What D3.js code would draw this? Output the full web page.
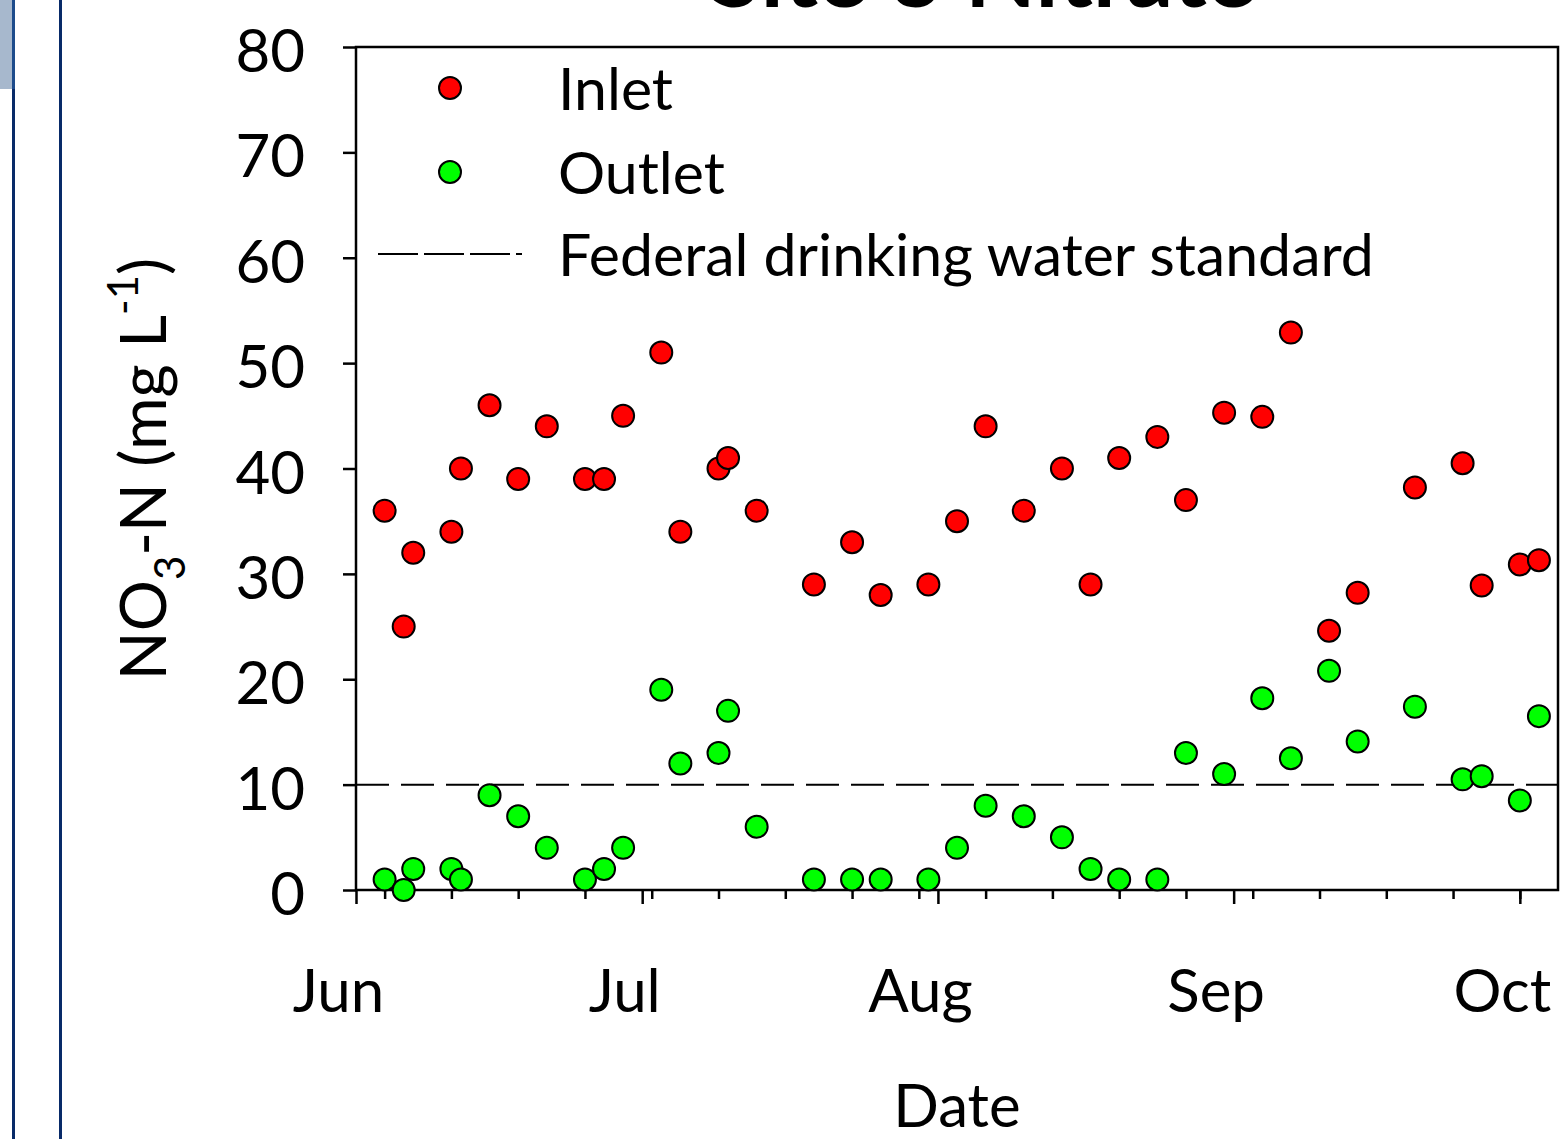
<!DOCTYPE html>
<html>
<head>
<meta charset="utf-8">
<script src="https://cdn.jsdelivr.net/npm/d3@7"></script>
<style>
  body { margin: 0; background: #fff; }
  svg { display: block; }
</style>
</head>
<body>
<script>
// sampling dates (2017) and nitrate concentrations, mg/L
const dates = [
  "2017-06-04", "2017-06-06", "2017-06-07", "2017-06-11", "2017-06-12", "2017-06-15",
  "2017-06-18", "2017-06-21", "2017-06-25", "2017-06-27", "2017-06-29", "2017-07-03",
  "2017-07-05", "2017-07-09", "2017-07-10", "2017-07-13", "2017-07-19", "2017-07-23",
  "2017-07-26", "2017-07-31", "2017-08-03", "2017-08-06", "2017-08-10", "2017-08-14",
  "2017-08-17", "2017-08-20", "2017-08-24", "2017-08-27", "2017-08-31", "2017-09-04",
  "2017-09-07", "2017-09-11", "2017-09-14", "2017-09-20", "2017-09-25", "2017-09-27",
  "2017-10-01", "2017-10-03"
]
const inlet = [
  36, 25, 32, 34, 40, 46, 39, 44, 39, 39, 45, 51,
  34, 40, 41, 36, 29, 33, 28, 29, 35, 44, 36, 40,
  29, 41, 43, 37, 45.3, 44.9, 52.9, 24.6, 28.2, 38.2, 40.5, 28.9,
  30.9, 31.3
]
const outlet = [
  1, 0, 2, 2, 1, 9, 7, 4, 1, 2, 4, 19,
  12, 13, 17, 6, 1, 1, 1, 1, 4, 8, 7, 5,
  2, 1, 1, 13, 11, 18.2, 12.5, 20.8, 14.1, 17.4, 10.5, 10.8,
  8.5, 16.5
]
const standard = 10
const xDomainDates = ["2017-06-01", "2017-10-05"]
const monthTicks = ["2017-06-01", "2017-07-01", "2017-08-01", "2017-09-01", "2017-10-01"]
const monthLabels = ["Jun", "Jul", "Aug", "Sep", "Oct"]
const yTicks = [0, 10, 20, 30, 40, 50, 60, 70, 80]
const legendLabels = ["Inlet", "Outlet", "Federal drinking water standard"]
const titleText = "Site 3 Nitrate"
const xLabel = "Date"

const width = 1563
const height = 1139
const marginTop = 47
const marginRight = 5
const marginBottom = 249
const marginLeft = 356
const font = "Lato, 'Open Sans', sans-serif"
const fontSize = 60
const r = 11

const parse = d3.utcParse("%Y-%m-%d")
const X = dates.map(parse)

const xScale = d3.scaleUtc()
      .domain(xDomainDates.map(parse))
      .range([marginLeft, width - marginRight])
const yScale = d3.scaleLinear()
      .domain([0, 80])
      .range([height - marginBottom, marginTop])

const svg = d3.select("body").append("svg")
      .attr("width", width)
      .attr("height", height)
      .attr("viewBox", [0, 0, width, height])
      .style("font-family", font)

// slide decoration on the left edge
svg.append("rect").attr("x", 0).attr("y", 0).attr("width", 12).attr("height", 89).attr("fill", "#a7b8cd")
svg.append("rect").attr("x", 12).attr("y", 0).attr("width", 3).attr("height", 89).attr("fill", "#1d4b8b")
svg.append("rect").attr("x", 12).attr("y", 89).attr("width", 3).attr("height", height - 89).attr("fill", "#082a68")
svg.append("rect").attr("x", 59).attr("y", 0).attr("width", 3).attr("height", height).attr("fill", "#082a68")

// title, mostly cut off by the top edge (as in the source slide)
svg.append("text")
      .attr("x", 983)
      .attr("y", 7)
      .attr("text-anchor", "middle")
      .attr("font-weight", "bold")
      .attr("font-size", 92)
      .text(titleText)

// y axis
svg.append("g")
      .attr("transform", `translate(${marginLeft},0)`)
      .call(d3.axisLeft(yScale).tickValues(yTicks).tickSize(13).tickPadding(38).tickFormat(d3.format("d")))
      .call(g => g.select(".domain").remove())
      .call(g => g.selectAll(".tick line").attr("stroke", "#000").attr("stroke-width", 2.5))
      .call(g => g.selectAll(".tick text")
            .attr("font-family", font)
            .attr("font-size", fontSize)
            .attr("fill", "#000")
            .attr("dy", "0.41em"))

// x axis: weekly minor ticks
svg.append("g")
      .attr("transform", `translate(0,${yScale(0)})`)
      .call(d3.axisBottom(xScale).ticks(d3.utcSunday).tickSize(9).tickFormat(""))
      .call(g => g.select(".domain").remove())
      .call(g => g.selectAll(".tick line").attr("stroke", "#000").attr("stroke-width", 2.5))

// x axis: month ticks and labels
svg.append("g")
      .attr("transform", `translate(0,${yScale(0)})`)
      .call(d3.axisBottom(xScale)
            .tickValues(monthTicks.map(parse))
            .tickSize(14)
            .tickPadding(65)
            .tickFormat((d, i) => monthLabels[i]))
      .call(g => g.select(".domain").remove())
      .call(g => g.selectAll(".tick line").attr("stroke", "#000").attr("stroke-width", 2.5))
      .call(g => g.selectAll(".tick text")
            .attr("font-family", font)
            .attr("font-size", fontSize)
            .attr("fill", "#000")
            .attr("dx", -18))

// plot frame
svg.append("rect")
      .attr("x", xScale.range()[0])
      .attr("y", yScale(80))
      .attr("width", xScale.range()[1] - xScale.range()[0])
      .attr("height", yScale(0) - yScale(80))
      .attr("fill", "none")
      .attr("stroke", "#000")
      .attr("stroke-width", 2.5)

// drinking water standard
svg.append("line")
      .attr("x1", xScale.range()[0])
      .attr("x2", xScale.range()[1])
      .attr("y1", yScale(standard))
      .attr("y2", yScale(standard))
      .attr("stroke", "#000")
      .attr("stroke-width", 2)
      .attr("stroke-dasharray", "33 12")

// points
const series = [
      {values: inlet, color: "#ff0000"},
      {values: outlet, color: "#00ff00"}
]
series.forEach(s => {
      svg.append("g")
            .attr("stroke", "#000")
            .attr("stroke-width", 2)
            .attr("fill", s.color)
            .selectAll("circle")
            .data(d3.range(X.length))
            .join("circle")
            .attr("cx", i => xScale(X[i]))
            .attr("cy", i => yScale(s.values[i]))
            .attr("r", r)
})

// legend
const legend = svg.append("g").attr("font-size", 59)
const rowY = [88, 172, 254]
series.forEach((s, i) => {
      legend.append("circle")
            .attr("cx", 450)
            .attr("cy", rowY[i])
            .attr("r", r)
            .attr("fill", s.color)
            .attr("stroke", "#000")
            .attr("stroke-width", 2)
})
legend.append("line")
      .attr("x1", 378)
      .attr("x2", 522)
      .attr("y1", rowY[2])
      .attr("y2", rowY[2])
      .attr("stroke", "#000")
      .attr("stroke-width", 2)
      .attr("stroke-dasharray", "40 6")
legend.selectAll("text")
      .data(legendLabels)
      .join("text")
      .attr("x", 558)
      .attr("y", (d, i) => rowY[i] + 22)
      .text(d => d)

// axis labels
svg.append("text")
      .attr("x", 957)
      .attr("y", 1127)
      .attr("text-anchor", "middle")
      .attr("font-size", fontSize)
      .text(xLabel)

const yLab = svg.append("text")
      .attr("transform", "translate(166,469) rotate(-90)")
      .attr("text-anchor", "middle")
      .attr("font-size", 64)
yLab.append("tspan").text("NO")
yLab.append("tspan").attr("font-size", 42).attr("dy", 19).text("3")
yLab.append("tspan").attr("dy", -19).text("-N (mg L")
yLab.append("tspan").attr("font-size", 42).attr("dy", -28).text("-1")
yLab.append("tspan").attr("dy", 28).text(")")
</script>
</body>
</html>
